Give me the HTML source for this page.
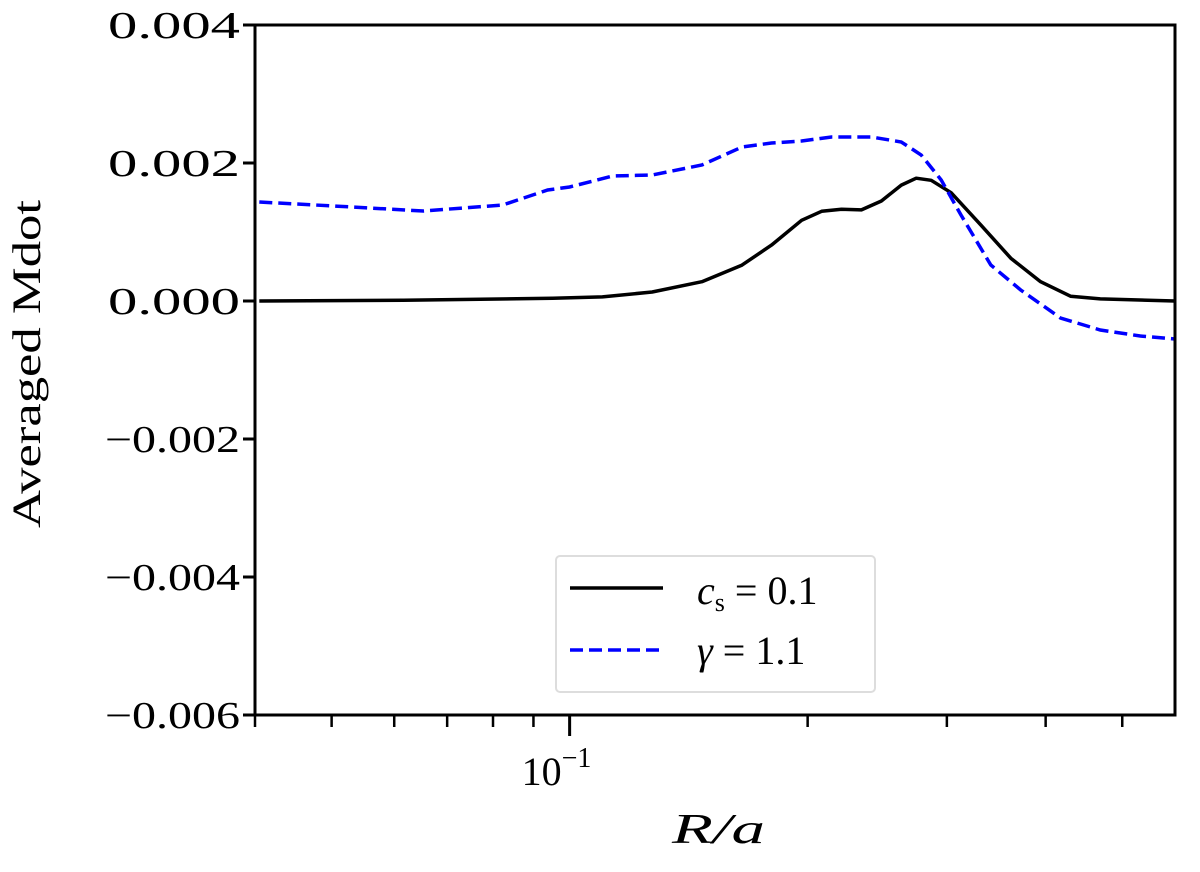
<!DOCTYPE html>
<html><head><meta charset="utf-8"><style>
body{margin:0;background:#fff;}
svg text{font-family:"Liberation Serif",serif;fill:#000;}
</style></head><body>
<svg id="chart" width="1200" height="867" xmlns="http://www.w3.org/2000/svg">
<g id="ticks"></g>
<g id="series"></g>
<rect x="255" y="25" width="920" height="690" fill="none" stroke="#000" stroke-width="3"/>
<text x="40" y="364" font-size="40" text-anchor="middle" textLength="328" lengthAdjust="spacingAndGlyphs" transform="rotate(-90 40 364)">Averaged Mdot</text>
<text x="672" y="843" font-size="42" font-style="italic" textLength="93" lengthAdjust="spacingAndGlyphs">R/a</text>
<g>
<rect x="556" y="556" width="319" height="136" rx="4" fill="#fff" stroke="#ddd" stroke-width="2"/>
<line x1="570" y1="588" x2="663" y2="588" stroke="#000" stroke-width="3.5"/>
<text x="697" y="604" font-size="40"><tspan font-style="italic">c</tspan><tspan font-size="26" dy="7">s</tspan><tspan dy="-7"> = 0.1</tspan></text>
<line x1="570" y1="650" x2="663" y2="650" stroke="#0000ff" stroke-width="3.5" stroke-dasharray="13,6"/>
<text x="697" y="664" font-size="40"><tspan font-style="italic">γ</tspan> = 1.1</text>
</g>
</svg>
<script>
const yTicks=[0.004,0.002,0,-0.002,-0.004,-0.006];
const yTickLabels=["0.004","0.002","0.000","\u22120.002","\u22120.004","\u22120.006"];
const xMinorTicks=[0.04,0.05,0.06,0.07,0.08,0.09,0.2,0.3,0.4,0.5];
const xMajorTicks=[0.1];
const blueX=[0.0405,0.0503,0.0653,0.0823,0.0938,0.1,0.1133,0.1272,0.147,0.1652,0.180,0.1965,0.2144,0.2408,0.2627,0.2784,0.2951,0.3126,0.341,0.372,0.4177,0.469,0.527,0.583];
const blueY=[0.001435,0.001377,0.001304,0.001391,0.001609,0.001652,0.001812,0.001826,0.001971,0.002232,0.00229,0.002319,0.002377,0.002377,0.002304,0.002116,0.001754,0.001246,0.000522,0.000159,-0.000246,-0.00042,-0.000507,-0.000551];
const blackX=[0.0405,0.0616,0.0952,0.110,0.1272,0.147,0.1652,0.180,0.1965,0.2083,0.2207,0.2339,0.2479,0.2627,0.2744,0.2866,0.3037,0.3313,0.3614,0.3942,0.43,0.469,0.583];
const blackY=[0.0,0.00001,0.00004,0.00006,0.00013,0.00028,0.00052,0.00081,0.00117,0.0013,0.00133,0.00132,0.00145,0.00168,0.00178,0.00175,0.00157,0.0011,0.00062,0.00028,0.00007,0.00003,0.0];
const X0=255,X1=1175,Y0=25,Y1=715,xmin=0.04,xmax=0.583,ymin=-0.006,ymax=0.004;
function sx(v){return X0+(Math.log10(v)-Math.log10(xmin))/(Math.log10(xmax)-Math.log10(xmin))*(X1-X0);}
function sy(v){return Y1-(v-ymin)/(ymax-ymin)*(Y1-Y0);}
const NS="http://www.w3.org/2000/svg";
const tg=document.getElementById('ticks'),sg=document.getElementById('series');
function mk(tag,attrs,parent){const e=document.createElementNS(NS,tag);for(const k in attrs)e.setAttribute(k,attrs[k]);parent.appendChild(e);return e;}
yTicks.forEach((v,i)=>{
 const y=sy(v);
 const t=mk('line',{x1:X0-12,x2:X0,y1:y,y2:y,stroke:'#000','stroke-width':3},tg);
 
 
 const neg=yTickLabels[i].length>5;
 const l=mk('text',{x:X0-15,y:y+13,'font-size':38,'text-anchor':'end',textLength:neg?135:132,lengthAdjust:'spacingAndGlyphs'},tg);
 l.textContent=yTickLabels[i];
 
 
});
xMinorTicks.forEach(v=>{
 const x=sx(v);
 const t=mk('line',{x1:x,x2:x,y1:Y1,y2:Y1+12,stroke:'#000','stroke-width':2.5},tg);
 
 
});
xMajorTicks.forEach(v=>{
 const x=sx(v);
 const t=mk('line',{x1:x,x2:x,y1:Y1,y2:Y1+21,stroke:'#000','stroke-width':3},tg);
 
 
 const l=mk('text',{x:x-48,y:Y1+70,'font-size':40},tg);
 l.innerHTML='10<tspan font-size="28" dy="-18">\u22121</tspan>';
 
 
});
function path(xs,ys){return xs.map((x,i)=>(i?'L':'M')+sx(x).toFixed(1)+','+sy(ys[i]).toFixed(1)).join(' ');}
const b=mk('path',{d:path(blackX,blackY),fill:'none',stroke:'#000','stroke-width':3.5,'stroke-linejoin':'round'},sg);


const g=mk('path',{d:path(blueX,blueY),fill:'none',stroke:'#0000ff','stroke-width':3.5,'stroke-dasharray':'13,6'},sg);


</script>
</body></html>
